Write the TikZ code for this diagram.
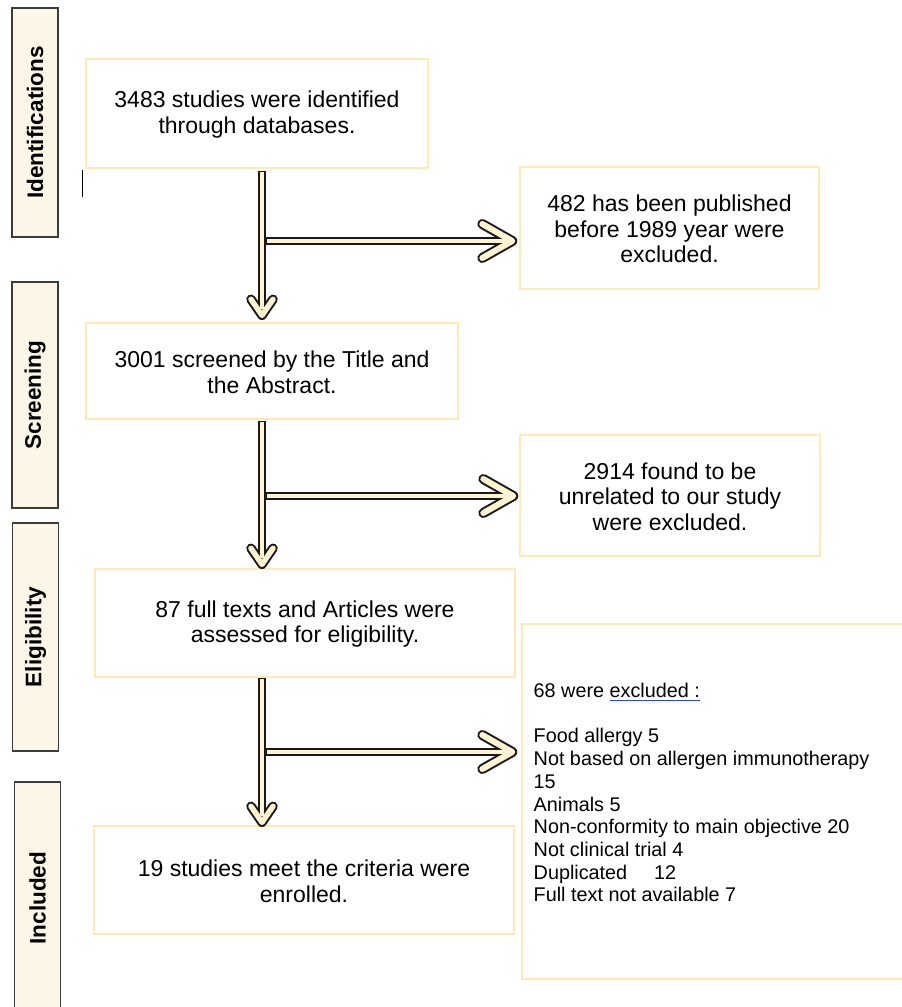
\documentclass[tikz,border=0pt]{standalone}
\usepackage{fontspec}
\setmainfont{Liberation Sans}
\usetikzlibrary{calc}
\definecolor{boxline}{RGB}{255,234,182}
\definecolor{labfill}{RGB}{251,246,230}
\definecolor{labline}{RGB}{60,60,60}
\definecolor{arrfill}{RGB}{255,243,210}
\definecolor{arrline}{RGB}{25,25,25}
\definecolor{ulblue}{RGB}{40,70,220}
\newsavebox\exclbox
\newcommand\blueul[1]{\sbox\exclbox{#1}\rlap{\color{ulblue}\rule[-3.5pt]{\wd\exclbox}{1.3pt}}\usebox\exclbox}
\newcommand\vflow[2]{%
  \draw[arrline, line width=7.5pt, line cap=butt] (#1) -- ($(#2)+(0,-6)$);
  \draw[arrline, line width=9.5pt, line cap=round, line join=round] ($(#2)+(-11,-16)$) -- (#2) -- ($(#2)+(11,-16)$);
  \draw[arrfill, line width=4.5pt, line cap=butt, shorten <=1.5pt] (#1) -- ($(#2)+(0,-6)$);
  \draw[arrfill, line width=5.5pt, line cap=round, line join=round] ($(#2)+(-11,-16)$) -- (#2) -- ($(#2)+(11,-16)$);
}
\newcommand\hflow[2]{%
  \draw[arrline, line width=8pt, line cap=butt] (#1) -- ($(#2)+(-6,0)$);
  \draw[arrline, line width=10pt, line cap=round, line join=round] ($(#2)+(-30,-17)$) -- (#2) -- ($(#2)+(-30,17)$);
  \draw[arrfill, line width=4.8pt, line cap=butt, shorten <=1.5pt] (#1) -- ($(#2)+(-6,0)$);
  \draw[arrfill, line width=6pt, line cap=round, line join=round] ($(#2)+(-30,-17)$) -- (#2) -- ($(#2)+(-30,17)$);
}
\begin{document}
\begin{tikzpicture}[x=1pt,y=-1pt,
  box/.style={draw=boxline, line width=1.4pt, fill=white, inner sep=0pt, align=center,
    font=\fontsize{23}{25.5}\selectfont},
  phase/.style={draw=labline, line width=1.2pt, fill=labfill, inner sep=0pt, rotate=90,
    minimum height=46pt, font=\fontsize{22.5}{26}\selectfont\bfseries},
  listtext/.style={inner sep=0pt, align=left, anchor=north west,
    font=\fontsize{19.8}{22.7}\selectfont}]
\clip (0,0) rectangle (902,1007);
\fill[white] (0,0) rectangle (902,1007);

% phase labels
\node[phase, minimum width=229pt] (p1) at (35,122.5) {Identifications};
\node[phase, minimum width=226pt] (p2) at (35,395) {Screening};
\node[phase, minimum width=228pt] (p3) at (35.5,637) {Eligibility};
\node[phase, minimum width=232pt] (p4) at (37.5,898) {Included};

\draw[black, line width=1pt] (82,170) -- (82,197);

% boxes
\node[box, minimum width=342pt, minimum height=109pt] (b1) at (257,113.5)
  {\rule{0pt}{19pt}3483 studies were identified\\through databases.};
\node[box, minimum width=299pt, minimum height=122pt] (b2) at (669.5,228)
  {\rule{0pt}{19pt}482 has been published\\before 1989 year were\\excluded.};
\node[box, minimum width=372pt, minimum height=96pt] (b3) at (272,371)
  {\rule{0pt}{19pt}3001 screened by the Title and\\the Abstract.};
\node[box, minimum width=300pt, minimum height=121pt] (b4) at (670,495.5)
  {\rule{0pt}{19pt}2914 found to be\\unrelated to our study\\were excluded.};
\node[box, minimum width=420pt, minimum height=108pt] (b5) at (305,623)
  {\rule{0pt}{19pt}87 full texts and Articles were\\assessed for eligibility.};
\node[box, minimum width=384pt, minimum height=355pt] (b6) at (714,801.5) {};
\node[listtext] (l6) at (533.5,683)
  {68 were \blueul{excluded :}\\[22.7pt]
   Food allergy 5\\
   Not based on allergen immunotherapy\\
   15\\
   Animals 5\\
   Non-conformity to main objective 20\\
   Not clinical trial 4\\
   Duplicated\hspace{27pt}12\\
   Full text not available 7};
\node[box, minimum width=420pt, minimum height=108pt] (b7) at (304,880)
  {\rule{0pt}{19pt}19 studies meet the criteria were\\enrolled.};

% flow arrows
\coordinate (col) at (262,0);
\coordinate (v1s) at ($(b1.south -| col)+(0,2)$);
\coordinate (v1t) at ($(b3.north -| col)+(0,-7)$);
\coordinate (j1) at (265.5,241);
\coordinate (h1t) at ($(b2.west |- j1)+(-7,0)$);
\coordinate (v2s) at ($(b3.south -| col)+(0,1)$);
\coordinate (v2t) at ($(b5.north -| col)+(0,-4)$);
\coordinate (j2) at (265.5,496);
\coordinate (h2t) at ($(b4.west |- j2)+(-6,0)$);
\coordinate (v3s) at ($(b5.south -| col)+(0,0)$);
\coordinate (v3t) at ($(b7.north -| col)+(0,-3)$);
\coordinate (j3) at (265.5,752);
\coordinate (h3t) at ($(b6.west |- j3)+(-9,0)$);

\vflow{v1s}{v1t}
\hflow{j1}{h1t}
\vflow{v2s}{v2t}
\hflow{j2}{h2t}
\vflow{v3s}{v3t}
\hflow{j3}{h3t}
\end{tikzpicture}
\end{document}
